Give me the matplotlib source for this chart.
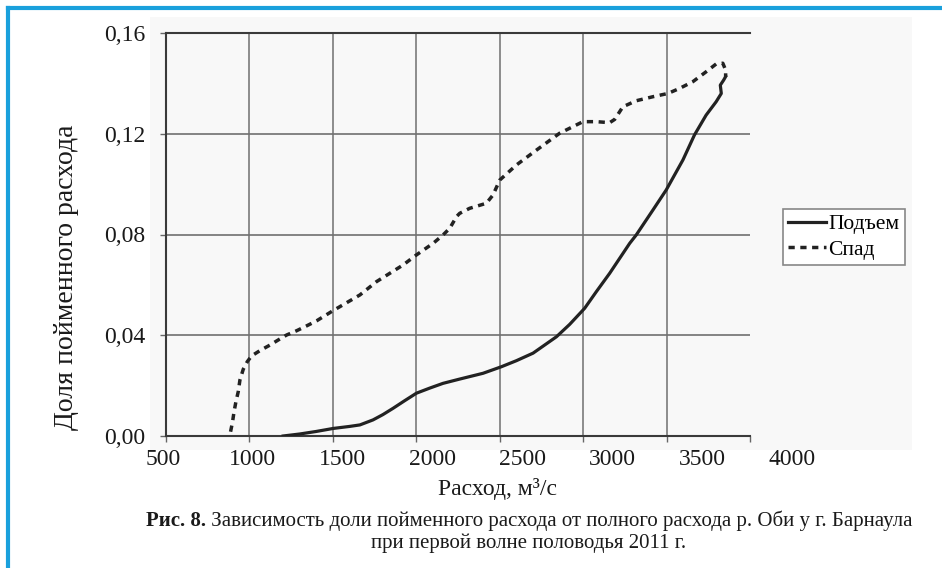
import matplotlib
matplotlib.use('Agg')
import matplotlib.pyplot as plt
from matplotlib.patches import Rectangle
from matplotlib.lines import Line2D
from matplotlib.transforms import ScaledTranslation, blended_transform_factory

plt.rcParams['font.family'] = ['Liberation Serif', 'DejaVu Serif']

# Подъем: расход (м3/с) и доля пойменного расхода
rise_q = [1202, 1302, 1400, 1502, 1600, 1662, 1741, 1800, 1861, 1930, 2001, 2080,
          2160, 2260, 2400, 2510, 2600, 2700, 2840, 2919, 3009, 3079, 3159, 3279,
          3318, 3418, 3498, 3598, 3667, 3737, 3797, 3828, 3822, 3842, 3854]
rise_share = [0.0, 0.0008, 0.0018, 0.0030, 0.0038, 0.0044, 0.0064, 0.0085, 0.0110,
              0.0140, 0.0170, 0.0190, 0.0209, 0.0226, 0.0249, 0.0275, 0.0299, 0.0329,
              0.0394, 0.0443, 0.0507, 0.0573, 0.0646, 0.0765, 0.0798, 0.0897, 0.0977,
              0.1096, 0.1195, 0.1274, 0.1327, 0.1360, 0.1393, 0.1413, 0.1427]

# Спад
fall_q = [887, 899, 907, 919, 933, 943, 963, 987, 1013, 1063, 1123, 1172, 1223, 1283,
          1342, 1402, 1502, 1582, 1662, 1762, 1921, 2001, 2101, 2160, 2201, 2241, 2260,
          2320, 2420, 2460, 2500, 2600, 2720, 2859, 2999, 3079, 3159, 3189, 3238, 3318,
          3418, 3508, 3578, 3658, 3737, 3797, 3837, 3854, 3854]
fall_share = [0.0017, 0.0057, 0.0093, 0.0136, 0.0176, 0.0222, 0.0265, 0.0295, 0.0318,
              0.0339, 0.0361, 0.0381, 0.0401, 0.0418, 0.0437, 0.0457, 0.0498, 0.0529,
              0.0560, 0.0613, 0.0679, 0.0719, 0.0765, 0.0798, 0.0825, 0.0871, 0.0884,
              0.0904, 0.0924, 0.0957, 0.1016, 0.1076, 0.1135, 0.1202, 0.1248, 0.1248,
              0.1244, 0.1257, 0.1307, 0.1331, 0.1347, 0.1360, 0.1380, 0.1407, 0.1446,
              0.1477, 0.1480, 0.1453, 0.1427]

x_ticks = [500, 1000, 1500, 2000, 2500, 3000, 3500, 4000]
y_ticks = [0.0, 0.04, 0.08, 0.12, 0.16]

caption_head = 'Рис. 8.'
caption_line1 = ' Зависимость доли пойменного расхода от полного расхода р. Оби у г. Барнаула'
caption_line2 = 'при первой волне половодья 2011 г.'

W, H = 942, 568
fig = plt.figure(figsize=(W / 100, H / 100), dpi=100)
fig.patch.set_facecolor('white')

# light panel behind the chart and the blue frame of the figure
fig.add_artist(Rectangle((150 / W, 1 - 450 / H), (912 - 150) / W, (450 - 17) / H,
                         transform=fig.transFigure, facecolor='#f8f8f8',
                         edgecolor='none', zorder=0))
frame = dict(transform=fig.transFigure, color='#1aa0dc', lw=3, zorder=5)
fig.add_artist(Line2D([7.5 / W, 7.5 / W], [0, 1 - 7.5 / H], **frame))
fig.add_artist(Line2D([7.5 / W, 1], [1 - 7.5 / H, 1 - 7.5 / H], **frame))

ax = fig.add_axes([166 / W, 132 / H, 584 / W, 403 / H])
ax.set_facecolor('none')
ax.set_xlim(500, 4000)
ax.set_ylim(0, 0.16)

for v in x_ticks[1:-1]:
    ax.axvline(v, color='#7a7a7a', lw=1.2, zorder=1)
ax.set_yticks(y_ticks)
ax.grid(axis='y', color='#707070', lw=1.2, zorder=1)

ax.plot(rise_q, rise_share, color='#222222', lw=2.3, label='Подъем', zorder=3)
ax.plot(fall_q, fall_share, color='#222222', lw=2.5, ls=(0, (1.8, 1.6)),
        label='Спад', zorder=3)

for side in ['left', 'bottom', 'top']:
    ax.spines[side].set_color('#3a3a3a')
    ax.spines[side].set_linewidth(1.5)
ax.spines['right'].set_visible(False)

ax.set_xticks(x_ticks)
ax.set_xticklabels([])
ax.tick_params(axis='both', direction='out', length=4.3, width=1, color='#666666')
ax.tick_params(axis='y', pad=10.8, labelsize=17, labelcolor='#1a1a1a')
ax.set_yticklabels([f'{v:.2f}'.replace('.', ',') for v in y_ticks])

# x labels sit on a slightly wider spacing than the grid
lab_trans = blended_transform_factory(ax.transData, ax.transAxes)
for i, v in enumerate(x_ticks):
    off = ScaledTranslation((-3 + 6.43 * i) / 100, -13 / 100, fig.dpi_scale_trans)
    ax.text(v, 0, str(v), transform=lab_trans + off, ha='center', va='top',
            fontsize=17, color='#1a1a1a')

fig.text(498 / W, 1 - 489 / H, 'Расход, м³/с', ha='center', va='center',
         fontsize=17, color='#1a1a1a')
fig.text(67 / W, 1 - 277 / H, 'Доля пойменного расхода', rotation=90,
         ha='center', va='center', fontsize=20, color='#1a1a1a')

leg = ax.legend(loc='upper left', bbox_to_anchor=(783 / W, 1 - 209 / H),
                bbox_transform=fig.transFigure, borderaxespad=0, fancybox=False,
                edgecolor='#888888', facecolor='white', framealpha=1,
                fontsize=15.5, handlelength=1.75, handletextpad=0.1,
                borderpad=0.25, labelspacing=0.25)
leg.get_frame().set_linewidth(1.2)

# caption: bold head + text, right edge of the first line at x = 912 px
cap_size = 15
renderer = fig.canvas.get_renderer()
head = fig.text(0, 1 - 521 / H, caption_head, ha='left', va='center',
                fontsize=cap_size, fontweight='bold', color='#1a1a1a')
body = fig.text(0, 1 - 521 / H, caption_line1, ha='left', va='center',
                fontsize=cap_size, color='#1a1a1a')
w_head = head.get_window_extent(renderer).width
w_body = body.get_window_extent(renderer).width
x0 = 912 - w_head - w_body
head.set_x(x0 / W)
body.set_x((x0 + w_head) / W)
fig.text((x0 + 912) / 2 / W, 1 - 543 / H, caption_line2, ha='center', va='center',
         fontsize=cap_size, color='#1a1a1a')

fig.savefig('out.png', dpi=100)
plt.close(fig)
